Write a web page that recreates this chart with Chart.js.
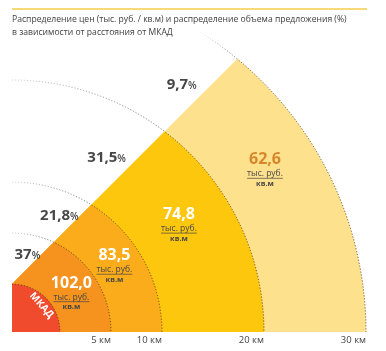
<!DOCTYPE html>
<html><head><meta charset="utf-8">
<script src="https://cdn.jsdelivr.net/npm/chart.js@4"></script>
<style>html,body{margin:0;padding:0;background:#fff}#wrap{width:386px;height:351px;position:relative}</style>
</head><body><div id="wrap"><canvas id="c"></canvas></div>
<script>
// ---- data ----
const titleLines = ['Распределение цен (тыс. руб. / кв.м) и распределение объема предложения (%)',
                    'в зависимости от расстояния от МКАД'];
const zoneBoundsKm = [5, 10, 20, 30];          // outer edge of each zone, km from MKAD
const mkadRadiusKm = 4.7;                      // radius of the MKAD disc, in km units
const pricesK = [102.0, 83.5, 74.8, 62.6];     // тыс. руб. / кв.м
const sharesPct = [37, 21.8, 31.5, 9.7];       // supply share, %
const tickLabels = ['5 км', '10 км', '20 км', '30 км'];
const mkadLabel = 'МКАД';
const unitLines = ['тыс. руб.', 'кв.м'];

// ---- styles ----
const zoneColors = ['#f6921e', '#fbac1a', '#fdc70d', '#fee18d'];
const mkadColor = '#ef4b2c';
const priceColors = ['#ffffff', '#ffffff', '#ffffff', '#d8862c'];
const textGrey = '#474747';
const shareNudge = [3, 3, -8, -10];
const FONT = '"Open Sans", "DejaVu Sans", sans-serif';

const fmtShare = v => Number.isInteger(v) ? String(v) : v.toFixed(1).replace('.', ',');
const fmtPrice = v => v.toFixed(1).replace('.', ',');

const ringsPlugin = {
  id: 'rings',
  beforeDatasetsDraw(chart) {
    const {ctx, scales: {x, y}} = chart;
    const cx = x.getPixelForValue(-mkadRadiusKm);
    const cy = y.getPixelForValue(0);
    const R = km => x.getPixelForValue(km) - cx;
    const r0 = R(0);
    const L = 1000;
    const clipIn = () => {
      ctx.beginPath();
      ctx.moveTo(cx, cy - r0); ctx.lineTo(cx + L, cy - r0 - L);
      ctx.lineTo(cx + L, cy); ctx.lineTo(cx, cy); ctx.closePath(); ctx.clip();
    };
    const clipOut = () => {
      ctx.beginPath();
      ctx.moveTo(cx, cy - r0); ctx.lineTo(cx + L, cy - r0 - L);
      ctx.lineTo(cx - 20, cy - r0 - L); ctx.lineTo(cx - 20, cy - r0); ctx.closePath(); ctx.clip();
    };
    const linePt = r => { const xr = (-r0 + Math.sqrt(2 * r * r - r0 * r0)) / 2; return {x: cx + xr, y: cy - (xr + r0)}; };

    // zones
    ctx.save();
    clipIn();
    for (let i = zoneBoundsKm.length - 1; i >= 0; i--) {
      ctx.beginPath(); ctx.moveTo(cx, cy);
      ctx.arc(cx, cy, R(zoneBoundsKm[i]), -Math.PI / 2, 0); ctx.closePath();
      ctx.fillStyle = zoneColors[i]; ctx.fill();
    }
    ctx.beginPath(); ctx.moveTo(cx, cy); ctx.arc(cx, cy, r0, -Math.PI / 2, 0); ctx.closePath();
    ctx.fillStyle = mkadColor; ctx.fill();
    // dotted borders inside
    ctx.setLineDash([1.2, 1.8]); ctx.lineWidth = 1; ctx.strokeStyle = 'rgba(70,45,20,0.75)';
    [0, ...zoneBoundsKm].forEach(k => { ctx.beginPath(); ctx.arc(cx, cy, R(k), -Math.PI / 2, 0); ctx.stroke(); });
    ctx.restore();

    // dotted arcs continuing into the white area (fading)
    ctx.save();
    clipOut();
    ctx.setLineDash([1.2, 1.8]); ctx.lineWidth = 1;
    zoneBoundsKm.forEach((k, i) => {
      const r = R(k); const p = linePt(r);
      const last = i === zoneBoundsKm.length - 1;
      const g = ctx.createLinearGradient(p.x, 0, last ? p.x - 40 : cx, 0);
      g.addColorStop(0, 'rgba(90,90,90,0.85)');
      g.addColorStop(1, last ? 'rgba(90,90,90,0)' : 'rgba(90,90,90,0.25)');
      ctx.strokeStyle = g;
      ctx.beginPath(); ctx.arc(cx, cy, r, -Math.PI / 2, 0); ctx.stroke();
    });
    ctx.restore();
  },
  afterDatasetsDraw(chart) {
    const {ctx, scales: {x, y}} = chart;
    const cx = x.getPixelForValue(-mkadRadiusKm);
    const cy = y.getPixelForValue(0);
    const R = km => x.getPixelForValue(km) - cx;
    const r0 = R(0);
    const linePt = r => { const xr = (-r0 + Math.sqrt(2 * r * r - r0 * r0)) / 2; return {x: cx + xr, y: cy - (xr + r0)}; };

    ctx.save();
    // header rule + title
    ctx.strokeStyle = '#f8d977'; ctx.lineWidth = 2; ctx.setLineDash([]);
    ctx.beginPath(); ctx.moveTo(12, 9); ctx.lineTo(367, 9); ctx.stroke();
    ctx.fillStyle = '#404040'; ctx.textAlign = 'left'; ctx.textBaseline = 'alphabetic';
    ctx.font = '500 10px ' + FONT;
    const w = ctx.measureText(titleLines[0]).width;
    const fs = 10 * 335 / w;
    ctx.font = '500 ' + fs.toFixed(2) + 'px ' + FONT;
    ctx.fillText(titleLines[0], 12, 22);
    ctx.fillText(titleLines[1], 12, 35);

    // shares (left of the cut line)
    zoneBoundsKm.forEach((k, i) => {
      const ra = i === 0 ? r0 : R(zoneBoundsKm[i - 1]);
      const rb = R(k);
      const p = linePt(ra + 0.58 * (rb - ra));
      const big = fmtShare(sharesPct[i]);
      ctx.font = 'bold 15px ' + FONT;
      const wb = ctx.measureText(big).width;
      ctx.font = '600 10px ' + FONT;
      const wp = ctx.measureText('%').width;
      const right = p.x + shareNudge[i];
      ctx.fillStyle = textGrey; ctx.textAlign = 'left';
      ctx.font = 'bold 15px ' + FONT;
      ctx.fillText(big, right - wp - wb, p.y);
      ctx.font = '600 10px ' + FONT;
      ctx.fillText('%', right - wp, p.y);
    });

    // prices inside the zones
    const ang = 32.5 * Math.PI / 180;
    zoneBoundsKm.forEach((k, i) => {
      const ra = i === 0 ? r0 : R(zoneBoundsKm[i - 1]);
      const rb = R(k);
      const rm = (ra + rb) / 2 - 3;
      const bx = cx + rm * Math.cos(ang), by = cy - rm * Math.sin(ang);
      ctx.textAlign = 'center'; ctx.textBaseline = 'middle';
      ctx.fillStyle = priceColors[i];
      ctx.font = 'bold 16px ' + FONT;
      ctx.fillText(fmtPrice(pricesK[i]), bx, by - 11);
      ctx.fillStyle = textGrey;
      ctx.font = '8.5px ' + FONT;
      ctx.fillText(unitLines[0], bx, by + 3);
      const uw = ctx.measureText(unitLines[0]).width;
      ctx.strokeStyle = textGrey; ctx.lineWidth = 0.7;
      ctx.beginPath(); ctx.moveTo(bx - uw / 2, by + 7.5); ctx.lineTo(bx + uw / 2, by + 7.5); ctx.stroke();
      ctx.font = 'bold 7.5px ' + FONT;
      ctx.fillText(unitLines[1], bx, by + 13);
    });

    // MKAD label
    const ma = 42 * Math.PI / 180, mr = r0 * 0.83;
    ctx.translate(cx + mr * Math.cos(ma), cy - mr * Math.sin(ma));
    ctx.rotate(Math.PI / 2 - ma);
    ctx.fillStyle = '#ffffff'; ctx.font = 'bold 10px ' + FONT;
    ctx.textAlign = 'center'; ctx.textBaseline = 'middle';
    ctx.fillText(mkadLabel, 0, 0);
    ctx.restore();
  }
};

new Chart(document.getElementById('c'), {
  type: 'scatter',
  data: { datasets: [{ data: zoneBoundsKm.map(k => ({x: k, y: 0})), pointRadius: 0, showLine: false }] },
  options: {
    responsive: true, maintainAspectRatio: false, animation: false,
    layout: { padding: { left: 12, right: 20, top: 40, bottom: 1.6 } },
    plugins: { legend: { display: false }, tooltip: { enabled: false }, title: { display: false } },
    scales: {
      x: {
        type: 'linear', min: -mkadRadiusKm, max: zoneBoundsKm[zoneBoundsKm.length - 1],
        grid: { display: false, drawTicks: false }, border: { display: false },
        afterBuildTicks: s => { s.ticks = zoneBoundsKm.map(v => ({value: v})); },
        ticks: {
          align: 'end', padding: 3, maxRotation: 0, autoSkip: false,
          color: textGrey, font: { family: FONT, size: 9.5 },
          callback: (v) => tickLabels[zoneBoundsKm.indexOf(v)]
        }
      },
      y: { display: false, min: 0, max: 1 }
    }
  },
  plugins: [ringsPlugin]
});
</script>
</body></html>
